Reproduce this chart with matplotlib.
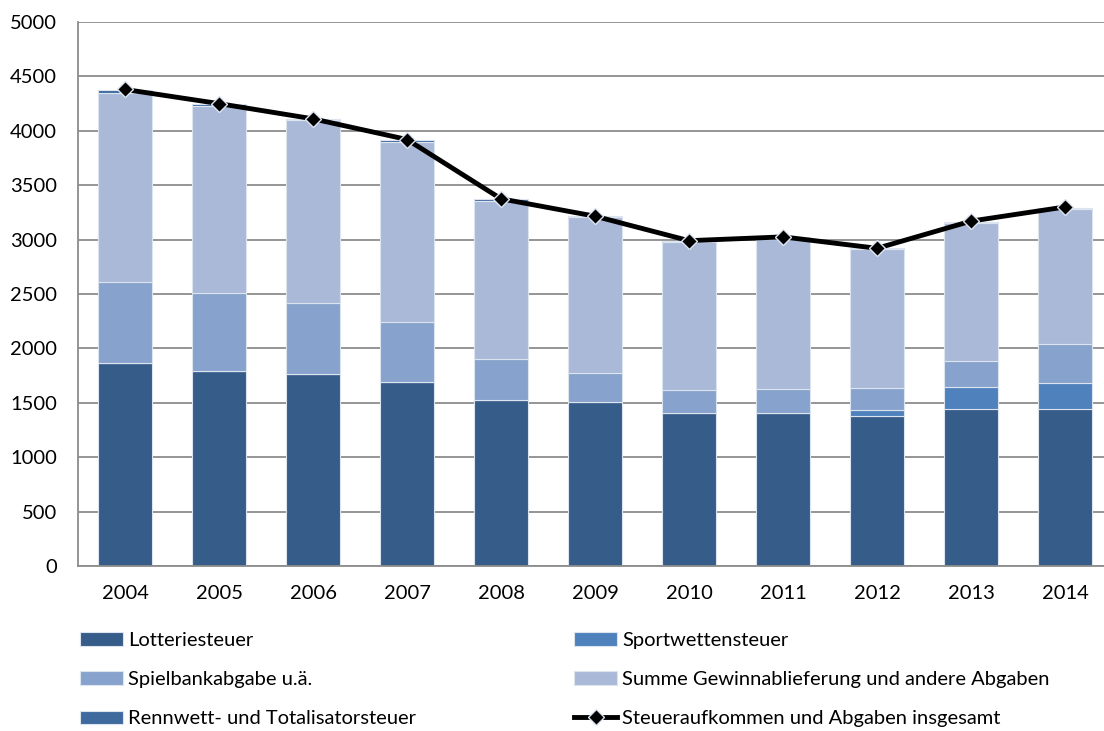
import matplotlib
matplotlib.use("Agg")
import matplotlib.pyplot as plt
import numpy as np

plt.rcParams['font.family'] = ['Lato', 'DejaVu Sans']

years = ['2004', '2005', '2006', '2007', '2008', '2009', '2010', '2011', '2012', '2013', '2014']
lotterie = [1865, 1795, 1765, 1690, 1528, 1507, 1405, 1410, 1382, 1446, 1446]
sport = [0, 0, 0, 0, 0, 0, 0, 0, 50, 196, 233]
spielbank = [748, 717, 649, 550, 377, 270, 215, 215, 207, 245, 361]
summe = [1737, 1713, 1681, 1660, 1453, 1427, 1360, 1385, 1273, 1270, 1245]
rennwett = [25, 20, 15, 15, 12, 10, 10, 10, 8, 8, 8]
total = [4380, 4250, 4110, 3920, 3375, 3215, 2990, 3025, 2920, 3170, 3300]

series = [
    ('Lotteriesteuer', lotterie, '#365C89'),
    ('Sportwettensteuer', sport, '#4F81BD'),
    ('Spielbankabgabe u.ä.', spielbank, '#87A2CC'),
    ('Summe Gewinnablieferung und andere Abgaben', summe, '#AAB9D7'),
    ('Rennwett- und Totalisatorsteuer', rennwett, '#3F6A9E'),
]

W, H = 1104, 731
fig = plt.figure(figsize=(W / 100, H / 100), dpi=100)
left_px, right_px, top_px, bottom_px = 78, 1104, 22, 566
ax = fig.add_axes([left_px / W, 1 - bottom_px / H, (right_px - left_px) / W, (bottom_px - top_px) / H])

x = np.arange(len(years))
bottom = np.zeros(len(years))
handles = {}
for name, vals, col in series:
    v = np.array(vals, dtype=float)
    b = ax.bar(x, v, bottom=bottom, width=0.58, color=col, edgecolor='#DCE4F0', linewidth=0.8, label=name, zorder=2)
    handles[name] = b
    bottom += v

line, = ax.plot(x, total, color='black', linewidth=3.5, marker='D', markersize=8,
                markerfacecolor='black', markeredgecolor='#DCE4F0', markeredgewidth=1.0, zorder=4,
                label='Steueraufkommen und Abgaben insgesamt')

spacing = (1065 - 124) / 10.0
ax.set_xlim(-0.5, 10 + (right_px - 1065) / spacing)
ax.set_ylim(0, 5000)
ax.set_yticks(np.arange(0, 5001, 500))
ax.set_xticks(x)
ax.set_xticklabels(years)
ax.grid(axis='y', color='#8C8C8C', linewidth=1.3, zorder=0)
ax.set_axisbelow(True)
for s in ['top', 'right']:
    ax.spines[s].set_visible(False)
ax.spines['bottom'].set_color('#8C8C8C')
ax.spines['bottom'].set_linewidth(1.3)
ax.spines['left'].set_color('#8C8C8C')
ax.spines['left'].set_linewidth(1.3)
ax.tick_params(axis='x', length=0, labelsize=14.5, pad=14)
ax.tick_params(axis='y', length=0, labelsize=14.5, pad=15)

leg_kw = dict(frameon=False, fontsize=14.5, handlelength=2.15, handleheight=0.65,
              handletextpad=0.25, labelspacing=1.1, borderaxespad=0, borderpad=0, loc='upper left')
l1 = fig.legend([handles['Lotteriesteuer'], handles['Spielbankabgabe u.ä.'], handles['Rennwett- und Totalisatorsteuer']],
                ['Lotteriesteuer', 'Spielbankabgabe u.ä.', 'Rennwett- und Totalisatorsteuer'],
                bbox_to_anchor=(80 / W, 1 - 632 / H), **leg_kw)
l2 = fig.legend([handles['Sportwettensteuer'], handles['Summe Gewinnablieferung und andere Abgaben'], line],
                ['Sportwettensteuer', 'Summe Gewinnablieferung und andere Abgaben', 'Steueraufkommen und Abgaben insgesamt'],
                bbox_to_anchor=(574 / W, 1 - 632 / H), **leg_kw)

fig.savefig('out.png', dpi=100)
